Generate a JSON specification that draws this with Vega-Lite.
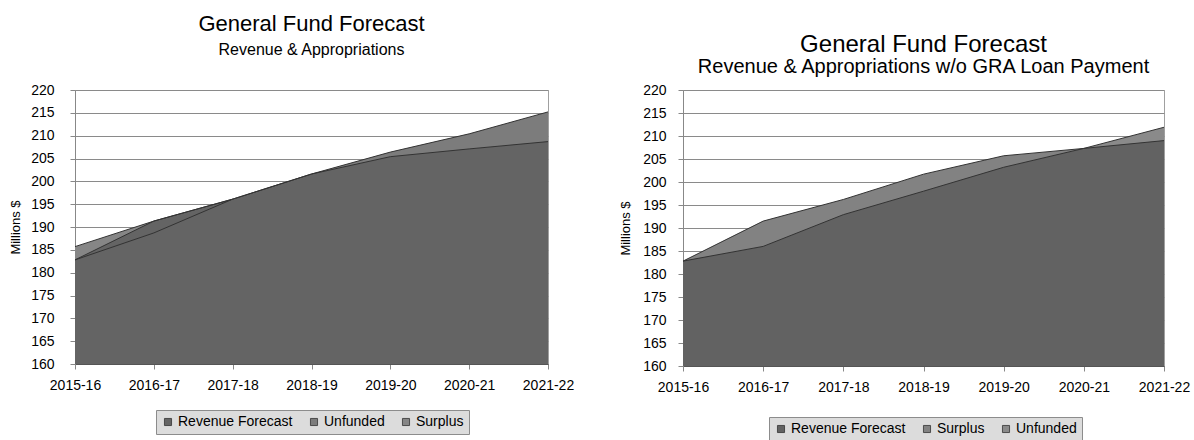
{
  "$schema": "https://vega.github.io/schema/vega-lite/v6.json",
  "padding": {"left": 9, "top": 12, "right": 5, "bottom": 0},
  "background": "white",
  "config": {
    "font": "Liberation Sans",
    "view": {"stroke": "#a0a0a0", "strokeWidth": 1},
    "axis": {
      "labelFont": "Liberation Sans", "labelFontSize": 14, "labelColor": "#000",
      "titleFont": "Liberation Sans", "titleFontWeight": "normal", "titleFontSize": 13, "titleColor": "#000",
      "domainColor": "#888", "tickColor": "#888", "tickSize": 5, "gridColor": "#8a8a8a", "gridWidth": 1
    },
    "title": {
      "font": "Liberation Sans", "fontSize": 22, "fontWeight": "normal", "color": "#000",
      "subtitleFont": "Liberation Sans", "subtitleFontSize": 16, "subtitleColor": "#000",
      "anchor": "middle", "subtitlePadding": 6
    },
    "legend": {
      "symbolType": "square", "symbolSize": 50, "labelFont": "Liberation Sans", "labelFontSize": 14, "labelColor": "#000",
      "fillColor": "#dcdcdc", "strokeColor": "#8c8c8c", "padding": 5, "columnPadding": 14,
      "symbolStrokeColor": "#333", "symbolStrokeWidth": 0.8, "labelOffset": 3, "symbolOpacity": 1
    }
  },
  "datasets": {
    "left": [
      {"year": "2015-16", "series": "Surplus", "value": 185.7},
      {"year": "2016-17", "series": "Surplus", "value": 191.3},
      {"year": "2017-18", "series": "Surplus", "value": 196.1},
      {"year": "2018-19", "series": "Surplus", "value": 201.6},
      {"year": "2018-19", "series": "Unfunded", "value": 201.6},
      {"year": "2019-20", "series": "Unfunded", "value": 206.4},
      {"year": "2020-21", "series": "Unfunded", "value": 210.4},
      {"year": "2021-22", "series": "Unfunded", "value": 215.2},
      {"year": "2015-16", "series": "Revenue Forecast", "value": 182.8},
      {"year": "2016-17", "series": "Revenue Forecast", "value": 191.3},
      {"year": "2017-18", "series": "Revenue Forecast", "value": 196.1},
      {"year": "2018-19", "series": "Revenue Forecast", "value": 201.6},
      {"year": "2019-20", "series": "Revenue Forecast", "value": 205.4},
      {"year": "2020-21", "series": "Revenue Forecast", "value": 207.1},
      {"year": "2021-22", "series": "Revenue Forecast", "value": 208.7},
      {"year": "2015-16", "series": "Appropriations", "value": 182.8},
      {"year": "2016-17", "series": "Appropriations", "value": 188.7},
      {"year": "2017-18", "series": "Appropriations", "value": 196.1}
    ],
    "right": [
      {"year": "2015-16", "series": "Surplus", "value": 182.8},
      {"year": "2016-17", "series": "Surplus", "value": 191.5},
      {"year": "2017-18", "series": "Surplus", "value": 196.2},
      {"year": "2018-19", "series": "Surplus", "value": 201.7},
      {"year": "2019-20", "series": "Surplus", "value": 205.7},
      {"year": "2020-21", "series": "Surplus", "value": 207.3},
      {"year": "2020-21", "series": "Unfunded", "value": 207.3},
      {"year": "2021-22", "series": "Unfunded", "value": 211.9},
      {"year": "2015-16", "series": "Revenue Forecast", "value": 182.8},
      {"year": "2016-17", "series": "Revenue Forecast", "value": 186.0},
      {"year": "2017-18", "series": "Revenue Forecast", "value": 192.9},
      {"year": "2018-19", "series": "Revenue Forecast", "value": 198.0},
      {"year": "2019-20", "series": "Revenue Forecast", "value": 203.2},
      {"year": "2020-21", "series": "Revenue Forecast", "value": 207.3},
      {"year": "2021-22", "series": "Revenue Forecast", "value": 209.0}
    ]
  },
  "spacing": 44,
  "resolve": {"scale": {"color": "independent", "y": "independent", "x": "independent"}, "legend": {"color": "independent"}},
  "hconcat": [
    {
      "width": 473, "height": 274,
      "title": {"text": "General Fund Forecast", "subtitle": "Revenue & Appropriations", "offset": 24},
      "data": {"name": "left"},
      "encoding": {
        "x": {"field": "year", "type": "ordinal",
              "scale": {"type": "point", "padding": 0, "domain": ["2015-16", "2016-17", "2017-18", "2018-19", "2019-20", "2020-21", "2021-22"]},
              "axis": {"title": null, "labelAngle": 0, "labelPadding": 9, "grid": false, "domainColor": "#555"}},
        "y": {"field": "value", "type": "quantitative",
              "scale": {"domain": [160, 220], "nice": false, "zero": false},
              "axis": {"title": "Millions $", "values": [160, 165, 170, 175, 180, 185, 190, 195, 200, 205, 210, 215, 220], "grid": true, "labelPadding": 16, "titlePadding": 8}}
      },
      "layer": [
        {"transform": [{"filter": "datum.series === 'Surplus'"}],
         "mark": {"type": "area"},
         "encoding": {"y2": {"datum": 160},
           "color": {"field": "series", "type": "nominal", "scale": {"domain": ["Revenue Forecast", "Unfunded", "Surplus"], "range": ["#646464", "#7c7c7c", "#868686"]},
                     "legend": {"title": null, "orient": "none", "legendX": 81, "legendY": 320, "direction": "horizontal"}}}},
        {"transform": [{"filter": "datum.series === 'Unfunded'"}],
         "mark": {"type": "area"},
         "encoding": {"y2": {"datum": 160},
           "color": {"field": "series", "type": "nominal", "scale": {"domain": ["Revenue Forecast", "Unfunded", "Surplus"], "range": ["#646464", "#7c7c7c", "#868686"]},
                     "legend": {"title": null, "orient": "none", "legendX": 81, "legendY": 320, "direction": "horizontal"}}}},
        {"transform": [{"filter": "datum.series === 'Revenue Forecast'"}],
         "mark": {"type": "area"},
         "encoding": {"y2": {"datum": 160},
           "color": {"field": "series", "type": "nominal", "scale": {"domain": ["Revenue Forecast", "Unfunded", "Surplus"], "range": ["#646464", "#7c7c7c", "#868686"]},
                     "legend": {"title": null, "orient": "none", "legendX": 81, "legendY": 320, "direction": "horizontal"}}}},
        {"mark": {"type": "line", "color": "#333333", "strokeWidth": 1},
         "encoding": {"detail": {"field": "series", "type": "nominal"}}}
      ]
    },
    {
      "width": 481, "height": 276,
      "title": {"text": "General Fund Forecast", "subtitle": "Revenue & Appropriations w/o GRA Loan Payment", "offset": 6, "fontSize": 24, "subtitleFontSize": 20, "subtitlePadding": 0},
      "data": {"name": "right"},
      "encoding": {
        "x": {"field": "year", "type": "ordinal",
              "scale": {"type": "point", "padding": 0, "domain": ["2015-16", "2016-17", "2017-18", "2018-19", "2019-20", "2020-21", "2021-22"]},
              "axis": {"title": null, "labelAngle": 0, "labelPadding": 9, "grid": false, "domainColor": "#555"}},
        "y": {"field": "value", "type": "quantitative",
              "scale": {"domain": [160, 220], "nice": false, "zero": false},
              "axis": {"title": "Millions $", "values": [160, 165, 170, 175, 180, 185, 190, 195, 200, 205, 210, 215, 220], "grid": true, "labelPadding": 12, "titlePadding": 10}}
      },
      "layer": [
        {"transform": [{"filter": "datum.series === 'Surplus'"}],
         "mark": {"type": "area"},
         "encoding": {"y2": {"datum": 160},
           "color": {"field": "series", "type": "nominal", "scale": {"domain": ["Revenue Forecast", "Surplus", "Unfunded"], "range": ["#626262", "#828282", "#8a8a8a"]},
                     "legend": {"title": null, "orient": "none", "legendX": 86, "legendY": 327, "direction": "horizontal"}}}},
        {"transform": [{"filter": "datum.series === 'Unfunded'"}],
         "mark": {"type": "area"},
         "encoding": {"y2": {"datum": 160},
           "color": {"field": "series", "type": "nominal", "scale": {"domain": ["Revenue Forecast", "Surplus", "Unfunded"], "range": ["#626262", "#828282", "#8a8a8a"]},
                     "legend": {"title": null, "orient": "none", "legendX": 86, "legendY": 327, "direction": "horizontal"}}}},
        {"transform": [{"filter": "datum.series === 'Revenue Forecast'"}],
         "mark": {"type": "area"},
         "encoding": {"y2": {"datum": 160},
           "color": {"field": "series", "type": "nominal", "scale": {"domain": ["Revenue Forecast", "Surplus", "Unfunded"], "range": ["#626262", "#828282", "#8a8a8a"]},
                     "legend": {"title": null, "orient": "none", "legendX": 86, "legendY": 327, "direction": "horizontal"}}}},
        {"mark": {"type": "line", "color": "#333333", "strokeWidth": 1},
         "encoding": {"detail": {"field": "series", "type": "nominal"}}}
      ]
    }
  ]
}
